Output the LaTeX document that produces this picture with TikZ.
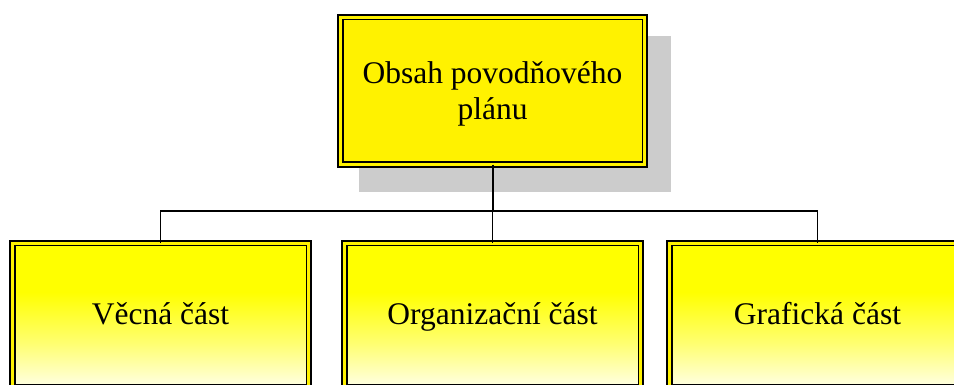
\documentclass[tikz,border=0pt]{standalone}
\usepackage{fontspec}
\setmainfont{Liberation Serif}
\pgfdeclareverticalshading{bfade}{100bp}{color(0bp)=(yellow!8); color(25bp)=(yellow!10); color(40bp)=(yellow!55); color(58bp)=(yellow); color(100bp)=(yellow)}
\tikzset{
  dbox/.style={draw=black, line width=1.6pt, double=yellow, double distance=3.3pt,
    rectangle, inner sep=0pt, outer sep=0pt},
  lbl/.style={font=\fontsize{31.5}{36}\selectfont, inner sep=0pt, text=black},
  conn/.style={draw=black, line width=1.3pt}
}
\begin{document}
\begin{tikzpicture}[x=1pt,y=1pt]
\useasboundingbox (0,0) rectangle (954,385);
\clip (0,0) rectangle (954,385);
% shadow
\fill[black!20] (359,385-36) rectangle (671,385-192);
% top box
\node[dbox, fill=yellow, minimum width=304.5pt, minimum height=147.5pt] (top) at (492.5,385-91) {};
\node[lbl, align=center] (toptxt) at (492.5,385-94) {Obsah povodňového\\plánu};
% bottom boxes
\foreach \n/\cx in {b1/160.5, b2/492.5, b3/817.5}{
  \node[dbox, shading=bfade, minimum width=296.5pt, minimum height=144pt] (\n) at (\cx,385-315.25) {};
}
\node[lbl, anchor=base] (t1) at (160.5,385-325) {Věcná část};
\node[lbl, anchor=base] (t2) at (492.5,385-325) {Organizační část};
\node[lbl, anchor=base] (t3) at (817.5,385-325) {Grafická část};
% connectors
\coordinate (bus) at (492.5,385-211);
\draw[black, line width=2pt] (top.south) -- (bus);
\draw[conn] (b1.north) |- (bus) -| (b3.north);
\draw[conn] (bus) -- (b2.north);
\end{tikzpicture}
\end{document}
